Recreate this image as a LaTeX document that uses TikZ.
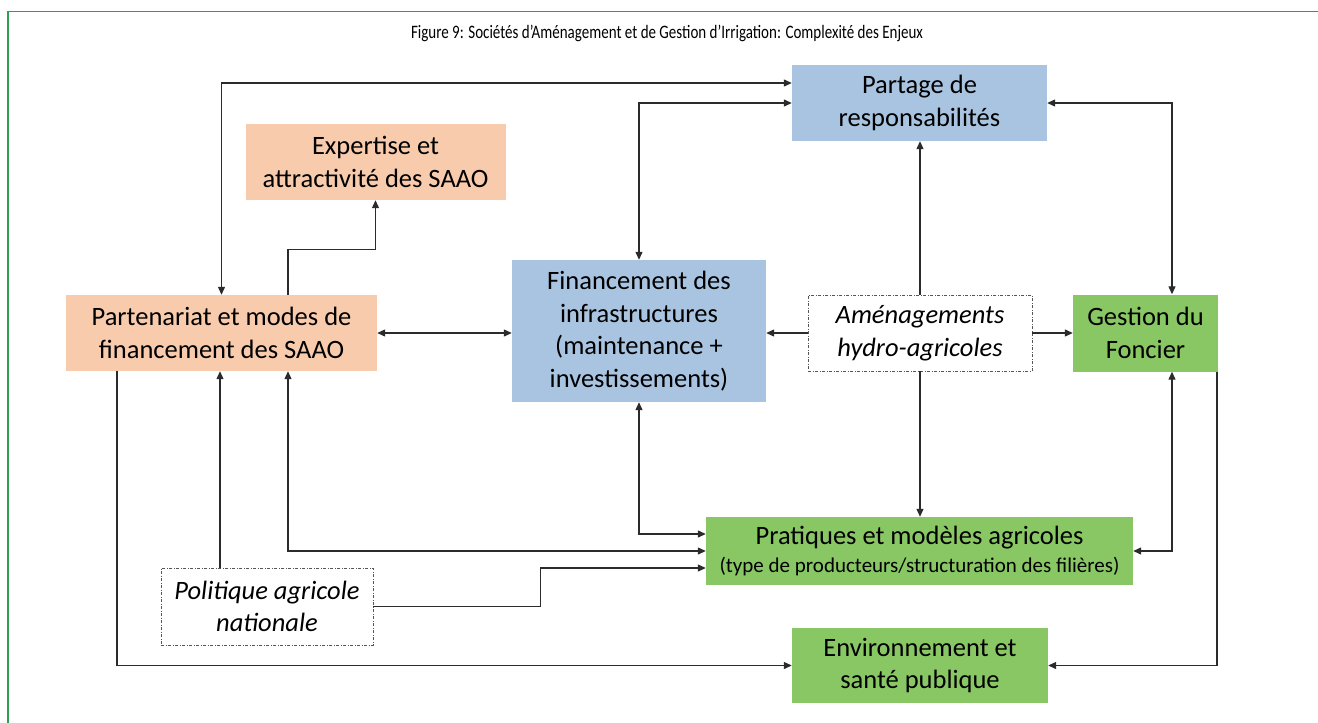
\documentclass[tikz,border=0pt]{standalone}
\usepackage{fontspec}
\setmainfont{Carlito}
\newfontfamily\titlefont{Carlito}
\usetikzlibrary{arrows.meta,calc}
\definecolor{orangebox}{HTML}{F8CBAD}
\definecolor{bluebox}{HTML}{A9C4E0}
\definecolor{greenbox}{HTML}{88C764}
\definecolor{framegreen}{HTML}{2E9E52}
\definecolor{linecol}{HTML}{2B2B2B}
\begin{document}
\begin{tikzpicture}[x=1pt,y=-1pt,
  basebox/.style={draw=none, align=center, inner sep=0pt, text=black,
    font=\fontsize{26.5}{32.5}\selectfont},
  obox/.style={basebox, fill=orangebox},
  bbox/.style={basebox, fill=bluebox},
  gbox/.style={basebox, fill=greenbox},
  dbox/.style={basebox, fill=white, draw=linecol!80, line width=0.9pt,
    dash pattern=on 3pt off 1.5pt on 1pt off 1.5pt,
    font=\fontsize{26.5}{32.5}\selectfont\itshape},
  conn/.style={draw=linecol, line width=1.2pt, arrows={-Triangle[length=8pt,width=7pt]}},
  conn2/.style={draw=linecol, line width=1.2pt, arrows={Triangle[length=8pt,width=7pt]-Triangle[length=8pt,width=7pt]}}
]
\useasboundingbox (0,0) rectangle (1318,723);
\fill[white] (0,0) rectangle (1318,723);
% frame
\draw[framegreen, line width=1.6pt] (8,723) -- (8,11.5) -- (1318,11.5);
% title
\node (title) at (667,33) {\titlefont\fontsize{19}{21}\selectfont\scalebox{0.79}[1]{Figure 9: Sociétés d’Aménagement et de Gestion d’Irrigation: Complexité des Enjeux}};

% nodes
\node[bbox, minimum width=255, minimum height=76] (part) at (919.5,103) {Partage de\\responsabilités};
\node[obox, minimum width=260, minimum height=76] (exp) at (375.5,162) {Expertise et\\attractivité des SAAO};
\node[obox, minimum width=311, minimum height=76] (pfin) at (221.5,333) {Partenariat et modes de\\financement des SAAO};
\node[bbox, minimum width=254, minimum height=142] (finf) at (639,331) {Financement des\\infrastructures\\(maintenance +\\investissements)};
\node[dbox, minimum width=224, minimum height=76] (amen) at (920,333) {Aménagements\\hydro-agricoles};
\node[gbox, minimum width=145, minimum height=77] (gest) at (1145.5,333) {Gestion du\\Foncier};
\node[gbox, minimum width=427, minimum height=68] (prat) at (919.5,551) {Pratiques et modèles agricoles\\[-5pt]{\fontsize{21}{23}\selectfont(type de producteurs/structuration des filières)}};
\node[gbox, minimum width=256, minimum height=75] (env) at (920,665.5) {Environnement et\\santé publique};
\node[dbox, minimum width=212, minimum height=77] (pol) at (267,606.5) {Politique agricole\\nationale};

% connectors
\draw[conn2] (pfin.north) |- ([yshift=20]part.west);
\draw[conn] ([xshift=66.5]pfin.north) -- ++(0,-45) -| (exp.south);
\draw[conn2] (pfin.east) -- (finf.west|-pfin.east);
\draw[conn2] (finf.north) |- (part.west);
\draw[conn] (amen.north) -- (amen.north|-part.south);
\draw[conn] (amen.west) -- (finf.east|-amen.west);
\draw[conn] (amen.east) -- (gest.west|-amen.east);
\draw[conn] (amen.south) -- (amen.south|-prat.north);
\draw[conn2] (part.east) -| ([xshift=26.5]gest.north);
\draw[conn2] ([xshift=26.5]gest.south) |- (prat.east);
\draw[conn] ([xshift=71.5]gest.south) |- (env.east);
\draw[conn2] (finf.south) |- ([yshift=17]prat.west);
\draw[conn2] ([xshift=66.5]pfin.south) |- (prat.west);
\coordinate (polturn) at ($(pol.east)+(167,0)$);
\draw[conn] (pol.east) -- (polturn) |- ([yshift=-17]prat.west);
\draw[conn] ([xshift=-47]pol.north) -- ([xshift=-47]pol.north|-pfin.south);
\draw[conn] ([xshift=-104.5]pfin.south) |- (env.west);
\end{tikzpicture}
\end{document}
